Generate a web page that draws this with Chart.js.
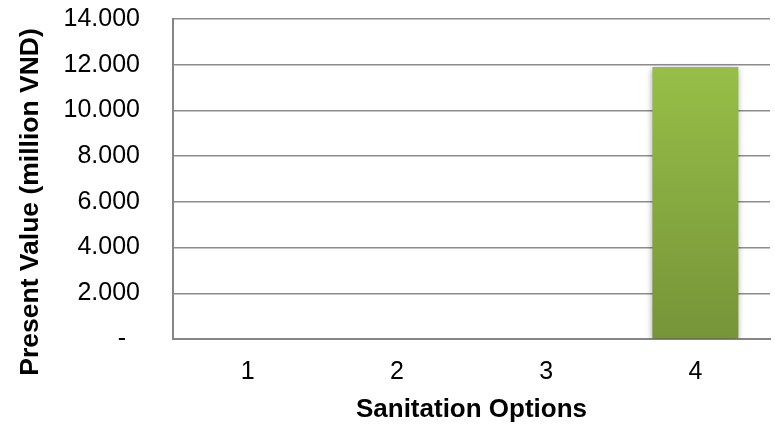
<!DOCTYPE html>
<html>
<head>
<meta charset="utf-8">
<script src="https://cdn.jsdelivr.net/npm/chart.js@4/dist/chart.umd.min.js"></script>
<style>
  html, body { margin: 0; padding: 0; background: #fff; }
  #wrap { width: 775px; height: 425px; }
</style>
</head>
<body>
<div id="wrap"><canvas id="pv"></canvas></div>
<script>
const options = ['1', '2', '3', '4'];
const presentValue = [0, 0, 0, 11900];
const yTicks = [0, 2000, 4000, 6000, 8000, 10000, 12000, 14000];
const yTitle = 'Present Value (million VND)';
const xTitle = 'Sanitation Options';

// 12000 -> "12.000", zero shown as an accounting-style dash
const fmt = v => v === 0 ? '-  ' : v.toLocaleString('de-DE');

const barShadow = {
  id: 'barShadow',
  beforeDatasetDraw(chart) {
    const ctx = chart.ctx;
    ctx.save();
    ctx.shadowColor = 'rgba(0,0,0,0.35)';
    ctx.shadowBlur = 6;
    ctx.shadowOffsetX = 0;
    ctx.shadowOffsetY = 2;
  },
  afterDatasetDraw(chart) {
    chart.ctx.restore();
  }
};

// value-axis title sits a bit lower than the plot centre
const sideTitle = {
  id: 'sideTitle',
  afterDraw(chart) {
    const ctx = chart.ctx;
    ctx.save();
    ctx.translate(38, 202);
    ctx.rotate(-Math.PI / 2);
    ctx.font = 'bold 26.5px "Liberation Sans"';
    ctx.fillStyle = '#000';
    ctx.textAlign = 'center';
    ctx.textBaseline = 'alphabetic';
    ctx.fillText(yTitle, 0, 0);
    ctx.restore();
  }
};

new Chart(document.getElementById('pv'), {
  type: 'bar',
  data: {
    labels: options,
    datasets: [{
      data: presentValue,
      backgroundColor: c => {
        const area = c.chart.chartArea;
        if (!area) return '#8bb042';
        const g = c.chart.ctx.createLinearGradient(0, area.top, 0, area.bottom);
        g.addColorStop(0, '#9dc64a');
        g.addColorStop(1, '#769439');
        return g;
      },
      borderWidth: 0,
      categoryPercentage: 0.576,
      barPercentage: 1
    }]
  },
  plugins: [barShadow, sideTitle],
  options: {
    responsive: true,
    maintainAspectRatio: false,
    animation: false,
    layout: { padding: { top: 0, right: 5, left: 0, bottom: 0 } },
    plugins: { legend: { display: false }, tooltip: { enabled: false } },
    scales: {
      x: {
        afterFit: axis => { axis.height = 86; },
        grid: { display: false, drawTicks: false },
        border: { color: '#868686', width: 2 },
        ticks: { color: '#000', padding: 18, font: { family: 'Liberation Sans', size: 25 } },
        title: {
          display: true, text: xTitle, color: '#000',
          padding: { top: 0, bottom: 0 },
          font: { family: 'Liberation Sans', size: 26, weight: 'bold' }
        }
      },
      y: {
        min: 0, max: 14000,
        afterFit: axis => {
          axis.width = 173;
          axis.paddingTop = 19;
          axis.paddingBottom = 0;
        },
        afterBuildTicks: axis => { axis.ticks = yTicks.map(v => ({ value: v })); },
        grid: { color: '#8c8c8c', lineWidth: 1.5, drawTicks: false },
        border: { color: '#868686', width: 2 },
        ticks: {
          color: '#000', padding: 33,
          font: { family: 'Liberation Sans', size: 25 },
          callback: v => fmt(v)
        }
      }
    }
  }
});
</script>
</body>
</html>
